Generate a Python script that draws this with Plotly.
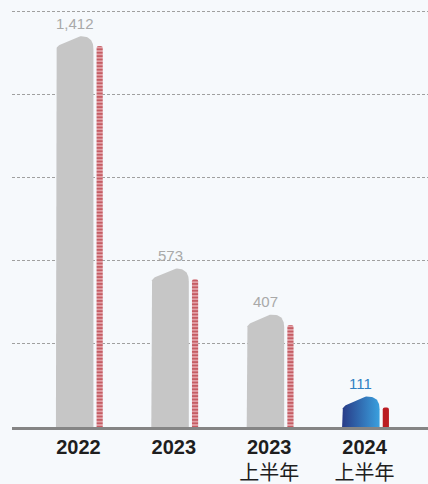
import numpy as np
import plotly.graph_objects as go

# ---- data ----
categories = ["2022", "2023", "2023上半年", "2024上半年"]
tick_labels = ["<b>2022</b>", "<b>2023</b>", "<b>2023</b><br>上半年", "<b>2024</b><br>上半年"]
main_values = [1412, 573, 407, 111]
compare_values = [1376, 534, 368, 70]
y_grid = [300, 600, 900, 1200, 1500]

# ---- style ----
BG = "#f6f9fc"
GRAY = "#c6c6c6"
LABEL_GRAY = "#a9a9a9"
LABEL_BLUE = "#2f80c3"
PX_PER_X = 95.4          # pixels per category unit
Y_MAX = 1542
PLOT_H = 429
UNITS_PER_PX_Y = Y_MAX / PLOT_H
BAR_W_PX = 37.5
MAIN_OFF = -0.039
CMP_OFF = 0.223
CMP_W = 0.065


def bez(pts, n=14):
    pts = np.array(pts, dtype=float)
    t = np.linspace(0, 1, n)[:, None]
    if len(pts) == 3:
        return (1 - t) ** 2 * pts[0] + 2 * (1 - t) * t * pts[1] + t ** 2 * pts[2]
    return ((1 - t) ** 3 * pts[0] + 3 * (1 - t) ** 2 * t * pts[1]
            + 3 * (1 - t) * t ** 2 * pts[2] + t ** 3 * pts[3])


def top_profile(W):
    s = W / 37.5
    segs = [
        bez([(0, 16), (0, 10), (5 * s, 8.5)]),
        np.array([(5 * s, 8.5), (20 * s, 1.5)]),
        bez([(20 * s, 1.5), (24 * s, -0.3), (31 * s, -0.6), (35 * s, 4)]),
        bez([(35 * s, 4), (W, 7), (W, 13)]),
    ]
    return np.vstack(segs)


def bar_path(center, value):
    prof = top_profile(BAR_W_PX)
    px = np.concatenate([[0], prof[:, 0], [BAR_W_PX, 0]])
    ys = np.concatenate([[0], value - prof[:, 1] * UNITS_PER_PX_Y, [0, 0]])
    xs = center + (px - BAR_W_PX / 2) / PX_PER_X
    return xs, ys


fig = go.Figure()

n = len(categories)
for i, v in enumerate(main_values):
    cx = i + MAIN_OFF
    xs, ys = bar_path(cx, v)
    kw = dict(fillcolor=GRAY)
    if i == n - 1:
        kw = dict(fillgradient=dict(type="horizontal",
                                    colorscale=[[0, "#283b87"], [1, "#3aa0de"]]))
    fig.add_trace(go.Scatter(x=xs, y=ys, mode="lines", fill="toself",
                             line=dict(width=0), hoverinfo="skip",
                             name=categories[i], **kw))

# comparison thin bars
fig.add_trace(go.Bar(
    x=[i + CMP_OFF for i in range(n - 1)], y=compare_values[:-1], width=CMP_W,
    marker=dict(color="#e2a0a6", cornerradius=2,
                pattern=dict(shape="-", fgcolor="#a3121a", bgcolor="#e6a9ae",
                             size=3.4, solidity=0.55),
                line=dict(width=0)),
    hoverinfo="skip"))
fig.add_trace(go.Bar(
    x=[n - 1 + CMP_OFF], y=[compare_values[-1]], width=CMP_W,
    marker=dict(color="#bb1c22", cornerradius=2, line=dict(width=0)),
    hoverinfo="skip"))

for i, v in enumerate(main_values):
    fig.add_annotation(x=i + MAIN_OFF, y=v, text=f"{v:,}", showarrow=False,
                       yanchor="bottom", yshift=2,
                       font=dict(size=15, color=LABEL_BLUE if i == n - 1 else LABEL_GRAY,
                                 family="Liberation Sans, Arial, sans-serif"))

fig.update_layout(
    width=428, height=484,
    margin=dict(l=12, r=0, t=0, b=484 - PLOT_H),
    showlegend=False, barmode="overlay",
    plot_bgcolor=BG, paper_bgcolor=BG,
    xaxis=dict(range=[-0.696, 3.665], tickvals=list(range(n)), ticktext=tick_labels,
               showgrid=False, zeroline=False, showline=True, linecolor="#858585",
               linewidth=3, ticks="", fixedrange=True,
               tickfont=dict(size=20, color="#1e1e1e",
                             family="Liberation Sans, Noto Sans CJK SC, sans-serif")),
    yaxis=dict(range=[0, Y_MAX], tickvals=y_grid, showticklabels=False,
               showgrid=True, gridcolor="#a0a0a0", gridwidth=1, griddash="3px,2px",
               zeroline=False, showline=False, ticks="", fixedrange=True),
)

fig.write_html("out.html", config={"displayModeBar": False},
               post_script="document.body.style.margin='0';document.body.style.overflow='hidden';")
